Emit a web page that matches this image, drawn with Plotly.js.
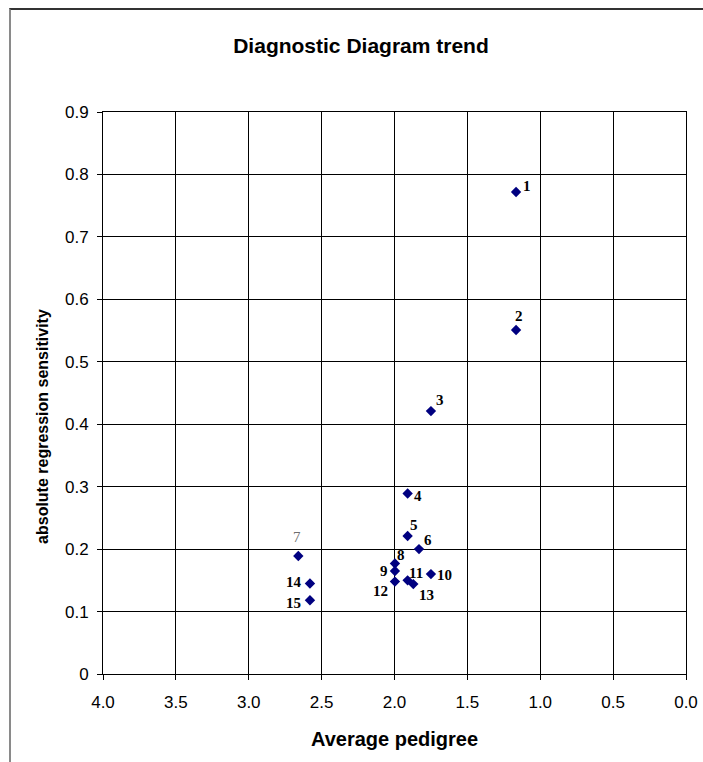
<!DOCTYPE html>
<html>
<head>
<meta charset="utf-8">
<script src="https://cdn.plot.ly/plotly-3.0.1.min.js"></script>
<style>
  html, body { margin: 0; padding: 0; background: #fff; }
  #wrap { position: relative; width: 703px; height: 762px; }
  #chart { position: absolute; left: 0; top: 0; width: 703px; height: 762px; }
  #frame {
    position: absolute; left: 9px; top: 8px; width: 700px; height: 760px;
    border-left: 2px solid #8a8a8a; border-top: 2px solid #333;
    pointer-events: none;
  }
</style>
</head>
<body>
<div id="wrap">
  <div id="chart"></div>
  <div id="frame"></div>
</div>
<script>
// Diagnostic diagram: average pedigree vs. absolute regression sensitivity
const pointIds    = ['1', '2', '3', '4', '5', '6', '7', '8', '9', '10', '11', '12', '13', '14', '15'];
const avgPedigree = [1.166, 1.166, 1.75, 1.91, 1.91, 1.832, 2.66, 1.997, 1.997, 1.75, 1.91, 1.997, 1.871, 2.58, 2.58];
const sensitivity = [0.772, 0.551, 0.421, 0.289, 0.221, 0.200, 0.189, 0.177, 0.165, 0.160, 0.150, 0.148, 0.144, 0.145, 0.118];

// label offsets (px) relative to each marker
const labelDx = [11, 3, 9, 10, 6, 9, -1, 6, -11, 14, 8, -14, 13, -16, -16];
const labelDy = [-6, -14, -11, 2, -11, -9, -19, -8, 0, 1, -7, 9, 11, -1, 3];

const xTicks = [4.0, 3.5, 3.0, 2.5, 2.0, 1.5, 1.0, 0.5, 0.0];

const sans = 'Liberation Sans, Arial, sans-serif';
const serif = 'Liberation Serif, Times New Roman, serif';

const pointLabels = pointIds.map((id, i) => ({
  x: avgPedigree[i], y: sensitivity[i], xref: 'x', yref: 'y',
  text: id === '7' ? id : '<b>' + id + '</b>',
  showarrow: false,
  xshift: labelDx[i], yshift: -labelDy[i],
  font: { family: serif, size: 15, color: id === '7' ? '#6e6e6e' : '#000' }
}));

// vertical axis title, placed as a rotated annotation
const yTitle = {
  text: '<b>absolute regression sensitivity</b>',
  xref: 'paper', yref: 'paper', x: -0.105, y: 0.441,
  xanchor: 'center', yanchor: 'middle', textangle: -90, showarrow: false,
  font: { family: sans, size: 16, color: '#000' }
};

const trace = {
  x: avgPedigree, y: sensitivity, type: 'scatter', mode: 'markers',
  marker: { symbol: 'diamond', size: 8, color: '#000080' },
  hoverinfo: 'none'
};

const layout = {
  width: 703, height: 762,
  margin: { l: 103, r: 17, t: 112, b: 88 },
  paper_bgcolor: '#fff', plot_bgcolor: '#fff',
  showlegend: false,
  title: {
    text: '<b>Diagnostic Diagram trend</b>',
    font: { family: sans, size: 21, color: '#000' },
    x: 0.5135, xref: 'container', xanchor: 'center', y: 0.94, yref: 'container', yanchor: 'middle'
  },
  xaxis: {
    range: [4.0, 0.0], autorange: false,
    tickvals: xTicks, ticktext: xTicks.map(v => v.toFixed(1)),
    showgrid: true, gridcolor: '#000', gridwidth: 1,
    showline: true, linecolor: '#000', linewidth: 1, mirror: true,
    ticks: 'outside', ticklen: 5, tickcolor: '#000', ticklabelstandoff: 8,
    zeroline: false,
    tickfont: { family: sans, size: 17, color: '#000' },
    title: { text: '<b>Average pedigree</b>', standoff: 20,
      font: { family: sans, size: 20, color: '#000' } }
  },
  yaxis: {
    range: [0, 0.9], autorange: false, dtick: 0.1, tick0: 0,
    showgrid: true, gridcolor: '#000', gridwidth: 1,
    showline: true, linecolor: '#000', linewidth: 1, mirror: true,
    ticks: 'outside', ticklen: 5, tickcolor: '#000', ticklabelstandoff: 5,
    zeroline: false,
    tickfont: { family: sans, size: 17, color: '#000' }
  },
  annotations: pointLabels.concat([yTitle])
};

Plotly.newPlot('chart', [trace], layout, { staticPlot: true, displayModeBar: false });
</script>
</body>
</html>
